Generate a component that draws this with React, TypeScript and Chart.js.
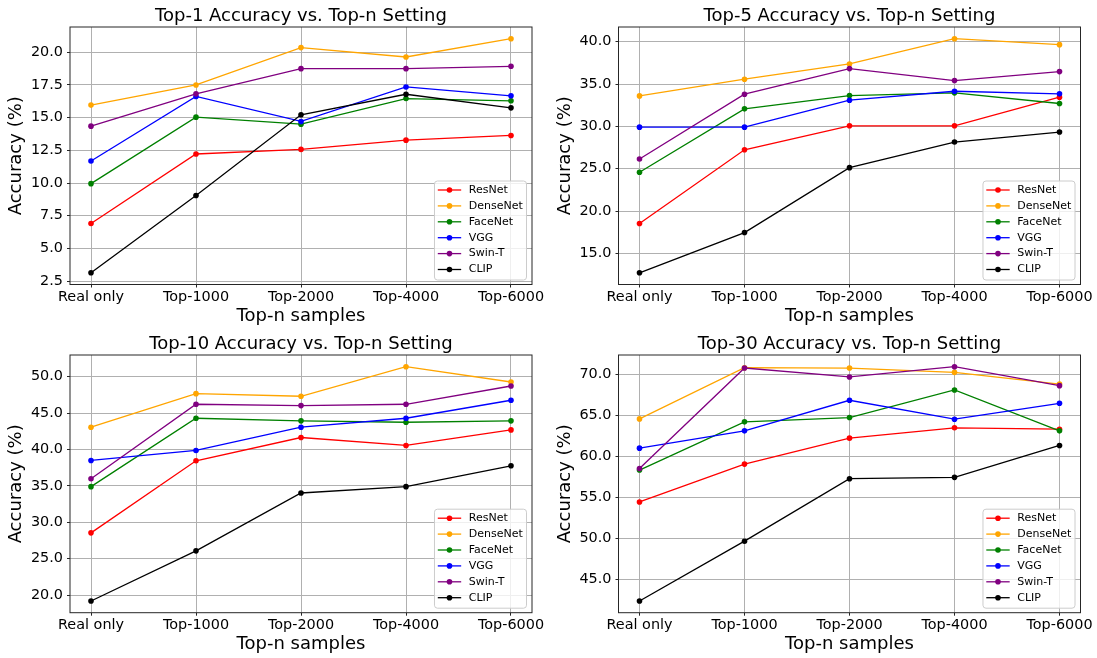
import React, { useEffect, useRef } from 'react';
import { Chart, registerables } from 'chart.js';

Chart.register(...registerables);

// ---------- data ----------
const categories = ['Real only', 'Top-1000', 'Top-2000', 'Top-4000', 'Top-6000'];
const models = ['ResNet', 'DenseNet', 'FaceNet', 'VGG', 'Swin-T', 'CLIP'];
const modelColors = ['#ff0000', '#ffa500', '#008000', '#0000ff', '#800080', '#000000'];

const top1ResNet = [6.9, 12.22, 12.57, 13.28, 13.64];
const top1DenseNet = [15.96, 17.5, 20.36, 19.64, 21.04];
const top1FaceNet = [9.95, 15.04, 14.5, 16.46, 16.29];
const top1VGG = [11.68, 16.62, 14.71, 17.35, 16.67];
const top1SwinT = [14.35, 16.82, 18.75, 18.75, 18.93];
const top1CLIP = [3.13, 9.04, 15.22, 16.79, 15.75];
const top1Ticks = [2.5, 5, 7.5, 10, 12.5, 15, 17.5, 20];

const top5ResNet = [18.53, 27.24, 30.07, 30.07, 33.45];
const top5DenseNet = [33.6, 35.57, 37.37, 40.35, 39.65];
const top5FaceNet = [24.58, 32.07, 33.64, 33.96, 32.7];
const top5VGG = [29.91, 29.91, 33.09, 34.15, 33.84];
const top5SwinT = [26.15, 33.8, 36.82, 35.41, 36.47];
const top5CLIP = [12.72, 17.47, 25.13, 28.15, 29.33];
const top5Ticks = [15, 20, 25, 30, 35, 40];

const top10ResNet = [28.54, 38.45, 41.64, 40.55, 42.69];
const top10DenseNet = [43.06, 47.67, 47.31, 51.37, 49.27];
const top10FaceNet = [34.89, 44.29, 43.93, 43.74, 43.93];
const top10VGG = [38.49, 39.86, 43.06, 44.29, 46.76];
const top10SwinT = [35.98, 46.21, 46.03, 46.21, 48.72];
const top10CLIP = [19.18, 26.07, 34.02, 34.89, 37.76];
const top10Ticks = [20, 25, 30, 35, 40, 45, 50];

const top30ResNet = [54.4, 59.02, 62.18, 63.44, 63.27];
const top30DenseNet = [64.53, 70.77, 70.73, 70.2, 68.78];
const top30FaceNet = [58.29, 64.17, 64.69, 68.06, 63.07];
const top30VGG = [60.96, 63.07, 66.8, 64.49, 66.43];
const top30SwinT = [58.49, 70.73, 69.64, 70.89, 68.58];
const top30CLIP = [42.33, 49.62, 57.24, 57.4, 61.29];
const top30Ticks = [45, 50, 55, 60, 65, 70];

const panelTitles = [
  'Top-1 Accuracy vs. Top-n Setting',
  'Top-5 Accuracy vs. Top-n Setting',
  'Top-10 Accuracy vs. Top-n Setting',
  'Top-30 Accuracy vs. Top-n Setting',
];

// ---------- layout ----------
const FONT = '"DejaVu Sans", "Liberation Sans", sans-serif';
Chart.defaults.font.family = FONT;
Chart.defaults.color = '#000';

const CANVAS_H = 328;

const panels = [
  { title: panelTitles[0], series: [top1ResNet, top1DenseNet, top1FaceNet, top1VGG, top1SwinT, top1CLIP], ticks: top1Ticks, left: 0, top: 0, width: 570, yW: 70, right: 532, xH: 43.5 },
  { title: panelTitles[1], series: [top5ResNet, top5DenseNet, top5FaceNet, top5VGG, top5SwinT, top5CLIP], ticks: top5Ticks, left: 549, top: 0, width: 548, yW: 69.5, right: 531.5, xH: 43.5 },
  { title: panelTitles[2], series: [top10ResNet, top10DenseNet, top10FaceNet, top10VGG, top10SwinT, top10CLIP], ticks: top10Ticks, left: 0, top: 328, width: 570, yW: 70, right: 532, xH: 43.3 },
  { title: panelTitles[3], series: [top30ResNet, top30DenseNet, top30FaceNet, top30VGG, top30SwinT, top30CLIP], ticks: top30Ticks, left: 549, top: 328, width: 548, yW: 69.5, right: 531.5, xH: 43.3 },
];

const framePlugin = {
  id: 'mplFrame',
  afterDatasetsDraw(chart: any) {
    const { ctx, chartArea: a } = chart;
    ctx.save();
    ctx.strokeStyle = '#262626';
    ctx.lineWidth = 1;
    ctx.strokeRect(a.left, a.top, a.right - a.left, a.bottom - a.top);
    ctx.restore();
  },
  afterDraw(chart: any) {
    const { ctx, chartArea: a } = chart;
    const ds = chart.data.datasets;
    ctx.save();
    ctx.font = `11px ${FONT}`;
    const maxW = Math.max(...ds.map((d: any) => ctx.measureText(d.label).width));
    const w = 34.3 + maxW + 3.7;
    const h = 99;
    const x = a.right - 5.5 - w;
    const y = a.bottom - 4.5 - h;
    ctx.beginPath();
    ctx.roundRect(x, y, w, h, 3);
    ctx.fillStyle = 'rgba(255,255,255,0.8)';
    ctx.fill();
    ctx.strokeStyle = '#cccccc';
    ctx.lineWidth = 1;
    ctx.stroke();
    ds.forEach((d: any, i: number) => {
      const ry = y + 9 + i * 15.9;
      ctx.strokeStyle = d.borderColor;
      ctx.lineWidth = 1.3;
      ctx.beginPath();
      ctx.moveTo(x + 3.3, ry);
      ctx.lineTo(x + 26.7, ry);
      ctx.stroke();
      ctx.fillStyle = d.borderColor;
      ctx.beginPath();
      ctx.arc(x + 15, ry, 2.8, 0, Math.PI * 2);
      ctx.fill();
      ctx.fillStyle = '#000';
      ctx.textAlign = 'left';
      ctx.textBaseline = 'middle';
      ctx.fillText(d.label, x + 34.3, ry);
    });
    ctx.restore();
  },
};

function Panel({ p }: { p: any }) {
  const ref = useRef<HTMLCanvasElement | null>(null);
  useEffect(() => {
    if (!ref.current) return;
    const all = p.series.flat();
    const dmin = Math.min(...all);
    const dmax = Math.max(...all);
    const span = dmax - dmin;
    const ymin = dmin - 0.05 * span;
    const ymax = dmax + 0.05 * span;
    const datasets = p.series.map((vals: number[], i: number) => ({
      label: models[i],
      data: vals.map((v, j) => ({ x: j, y: v })),
      borderColor: modelColors[i],
      backgroundColor: modelColors[i],
      borderWidth: 1.3,
      pointRadius: 2.8,
      pointHoverRadius: 2.8,
      pointBorderWidth: 0,
      tension: 0,
      fill: false,
      order: models.length - i,
    }));
    const chart = new Chart(ref.current, {
      type: 'line',
      data: { datasets },
      plugins: [framePlugin],
      options: {
        animation: false,
        responsive: false,
        events: [],
        layout: { padding: { left: 0, top: 0, bottom: 0, right: p.width - p.right } },
        plugins: {
          legend: { display: false },
          tooltip: { enabled: false },
          title: {
            display: true,
            fullSize: false,
            text: p.title,
            color: '#000',
            font: { size: 18, weight: 'normal', lineHeight: 1.15 },
            padding: { top: 6.15, bottom: 0.15 },
          },
        },
        scales: {
          x: {
            type: 'linear',
            min: -0.2,
            max: 4.2,
            afterBuildTicks: (s: any) => {
              s.ticks = categories.map((_, i) => ({ value: i }));
            },
            afterFit: (s: any) => {
              s.height = p.xH;
            },
            ticks: {
              callback: (v: any) => categories[v] ?? '',
              font: { size: 14.4, lineHeight: 1.2 },
              color: '#000',
              padding: 1,
              maxRotation: 0,
              autoSkip: false,
            },
            grid: { color: '#b0b0b0', lineWidth: 1, tickLength: 3, tickColor: '#262626', drawTicks: true },
            border: { display: false },
            title: {
              display: true,
              text: 'Top-n samples',
              color: '#000',
              font: { size: 18, lineHeight: 1.15 },
              padding: { top: 0, bottom: 1.3 },
            },
          },
          y: {
            type: 'linear',
            min: ymin,
            max: ymax,
            afterBuildTicks: (s: any) => {
              s.ticks = p.ticks.map((v: number) => ({ value: v }));
            },
            afterFit: (s: any) => {
              s.width = p.yW;
            },
            ticks: {
              callback: (v: any) => Number(v).toFixed(1),
              font: { size: 14.4, lineHeight: 1.2 },
              color: '#000',
              padding: 4,
              autoSkip: false,
            },
            grid: { color: '#b0b0b0', lineWidth: 1, tickLength: 3, tickColor: '#262626', drawTicks: true },
            border: { display: false },
            title: {
              display: true,
              text: 'Accuracy (%)',
              color: '#000',
              font: { size: 18, lineHeight: 1.15 },
              padding: { top: 6, bottom: 0 },
            },
          },
        },
      } as any,
    });
    return () => chart.destroy();
  }, [p]);
  return (
    <canvas
      ref={ref}
      width={p.width}
      height={CANVAS_H}
      style={{ position: 'absolute', left: p.left, top: p.top, width: p.width, height: CANVAS_H }}
    />
  );
}

export default function App() {
  return (
    <div style={{ position: 'absolute', left: 0, top: 0, width: 1097, height: 658, background: '#fff', overflow: 'hidden' }}>
      {panels.map((p, i) => (
        <Panel key={i} p={p} />
      ))}
    </div>
  );
}
